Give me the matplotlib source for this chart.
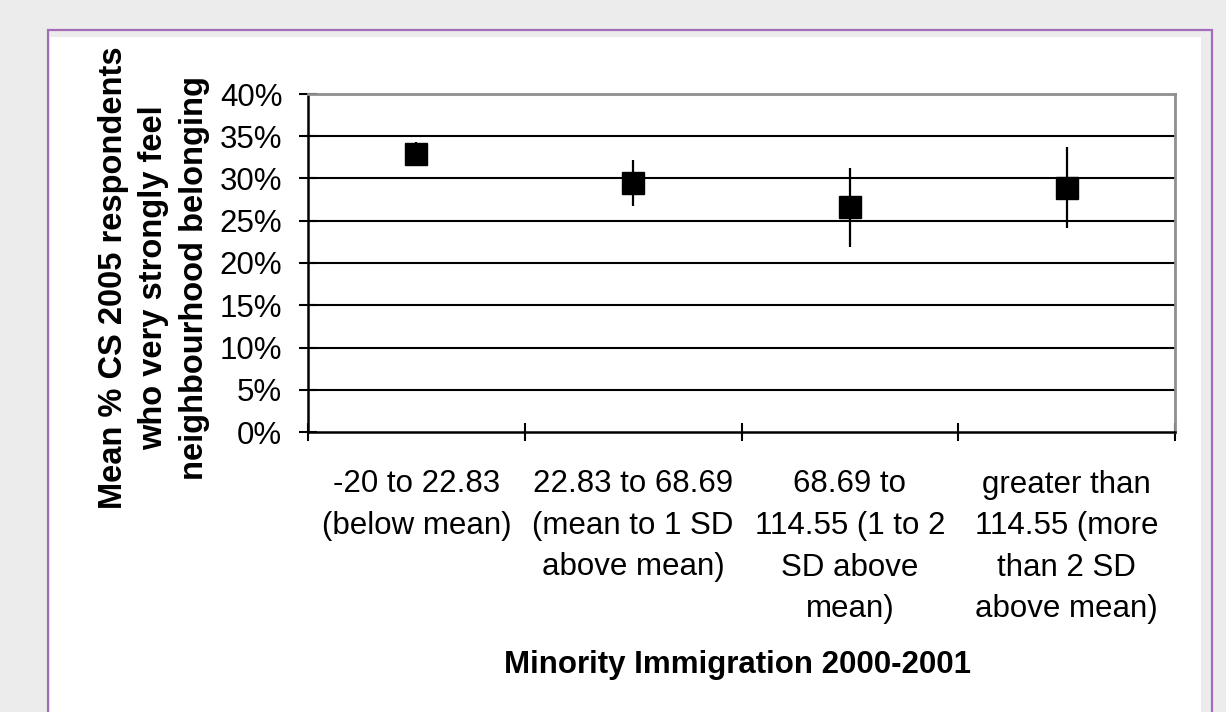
import matplotlib.pyplot as plt
import matplotlib.patches as patches
from matplotlib.ticker import FixedLocator, FuncFormatter

# Mean share feeling strong neighbourhood belonging, by immigration band
categories = [
    "-20 to 22.83\n(below mean)",
    "22.83 to 68.69\n(mean to 1 SD\nabove mean)",
    "68.69 to\n114.55 (1 to 2\nSD above\nmean)",
    "greater than\n114.55 (more\nthan 2 SD\nabove mean)",
]
means = [32.9, 29.5, 26.6, 28.9]
errors = [1.45, 2.7, 4.7, 4.8]
y_ticks = [0, 5, 10, 15, 20, 25, 30, 35, 40]

W, H = 1226, 712
plt.rcParams['font.family'] = ['Liberation Sans', 'DejaVu Sans']

fig = plt.figure(figsize=(W / 100, H / 100), dpi=100)
fig.patch.set_facecolor('#ebeceb')

# white page panel with purple frame
fig.patches.append(patches.Rectangle(
    (50 / W, 0), (1201 - 50) / W, 1 - 37 / H,
    transform=fig.transFigure, facecolor='white', edgecolor='none', zorder=0))
fig.patches.append(patches.Rectangle(
    (48 / W, -0.05), (1212 - 48) / W, 1.05 - 30 / H,
    transform=fig.transFigure, facecolor='none', edgecolor='#a56cba',
    linewidth=1.6, zorder=1))

ax = fig.add_axes([308 / W, 1 - 432 / H, (1175 - 308) / W, (432 - 94) / H])
ax.set_zorder(3)
ax.set_facecolor('white')

x = [i + 0.5 for i in range(len(categories))]
ax.errorbar(x, means, yerr=errors, fmt='none', ecolor='black',
            elinewidth=1.6, capsize=0, zorder=3)
ax.plot(x, means, linestyle='none', marker='s', markersize=16.5,
        color='black', zorder=4)

ax.set_xlim(0, len(categories))
ax.set_ylim(0, 40)

# horizontal gridlines at each y tick
for v in y_ticks[1:-1]:
    ax.axhline(v, color='black', linewidth=1.5, zorder=1)

ax.yaxis.set_major_locator(FixedLocator(y_ticks))
ax.yaxis.set_major_formatter(FuncFormatter(lambda v, p: f"{v:.0f}%"))
ax.tick_params(axis='y', direction='inout', length=13, width=1.5,
               labelsize=22.5, pad=12, colors='black')

ax.set_xticks(range(len(categories) + 1))
ax.set_xticklabels([])
ax.set_xticks(x, minor=True)
ax.set_xticklabels(categories, minor=True, fontsize=22.5, linespacing=1.5,
                   va='top', ha='center')
ax.tick_params(axis='x', which='major', direction='inout', length=13,
               width=1.5)
ax.tick_params(axis='x', which='minor', length=0, pad=27)

for side in ('left', 'bottom'):
    ax.spines[side].set_color('black')
    ax.spines[side].set_linewidth(1.8)
for side in ('top', 'right'):
    ax.spines[side].set_color('#8f8f8f')
    ax.spines[side].set_linewidth(2)

fig.text(154 / W, 1 - 278 / H,
         "Mean % CS 2005 respondents\nwho very strongly feel\nneighbourhood belonging",
         rotation=90, ha='center', va='center', multialignment='center',
         fontsize=23.5, fontweight='bold', linespacing=1.4)
fig.text(737 / W, 1 - 665 / H, "Minority Immigration 2000-2001",
         ha='center', va='center', fontsize=22.5, fontweight='bold')

fig.savefig('out.png', dpi=100, facecolor=fig.get_facecolor())
